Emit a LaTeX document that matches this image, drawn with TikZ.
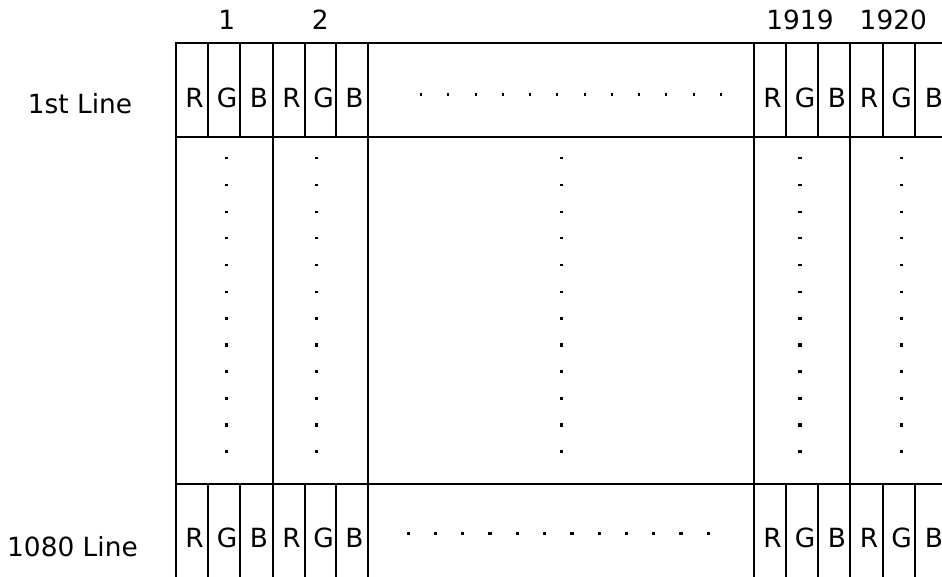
\documentclass[tikz,border=0pt]{standalone}
\usepackage{fontspec}
\setmainfont{DejaVu Sans}
\begin{document}
\begin{tikzpicture}[x=1bp,y=-1bp,
  gridline/.style={line width=2.2bp, black},
  celline/.style={line width=1.8bp, black},
  lbl/.style={font=\fontsize{26.5}{30}\selectfont, anchor=base, inner sep=0pt},
  sdot/.style={fill=black, minimum width=3.2bp, minimum height=1.8bp, inner sep=0pt},
  bdot/.style={fill=black, minimum size=3.3bp, inner sep=0pt},
  vdot/.style={fill=black, minimum width=2bp, minimum height=3.4bp, inner sep=0pt}]
\useasboundingbox (0,0) rectangle (942,577);
\clip (0,0) rectangle (942,577);
% horizontal lines
\draw[gridline] (175.7,43) -- (960,43);
\draw[gridline] (175.7,137) -- (960,137);
\draw[gridline] (175.7,484) -- (960,484);
% full-height verticals
\foreach \x in {175.7,272.7,368.3,754,850,947.5}
  \draw[gridline] (\x,42) -- (\x,600);
% cell dividers in top and bottom rows
\foreach \x in {208.3,240,305,335.7,785.7,818.3,882.7,915}{
  \draw[celline] (\x,43) -- (\x,137);
  \draw[celline] (\x,484) -- (\x,600);
}
% column headers
\node[lbl] (h1) at (226.7,30) {1};
\node[lbl] (h2) at (320.3,30) {2};
\node[lbl] (h1919) at (800,30) {1919};
\node[lbl] (h1920) at (893.3,30) {1920};
% row labels
\node[lbl] (l1) at (80,114) {1st Line};
\node[lbl] (l1080) at (72.5,556) {1080 Line};
% sub-pixel letters
\foreach \c/\t [count=\i] in {194.5/R,227/G,259/B,291.5/R,323.5/G,354.5/B,772.5/R,805/G,837/B,869/R,901.5/G,934/B}{
  \node[lbl] (t\i) at (\c,108) {\t};
  \node[lbl] (b\i) at (\c,547) {\t};
}
% dots in top row
\foreach \i in {0,...,11}
  \node[vdot] (td\i) at ({421+27.25*\i},94.3) {};
% dots in bottom row
\foreach \i in {0,...,11}
  \node[bdot] (bd\i) at ({408.3+27.27*\i},533.3) {};
% dots in middle section
\foreach \x [count=\k] in {226.7,316.7,561.7,800,901.7}{
  \foreach \j in {0,...,5}
    \node[sdot] (ms\k-\j) at (\x,{158.3+26.67*\j}) {};
  \foreach \j in {6,...,11}
    \node[bdot] (mb\k-\j) at (\x,{158.3+26.67*\j}) {};
}
\end{tikzpicture}
\end{document}
